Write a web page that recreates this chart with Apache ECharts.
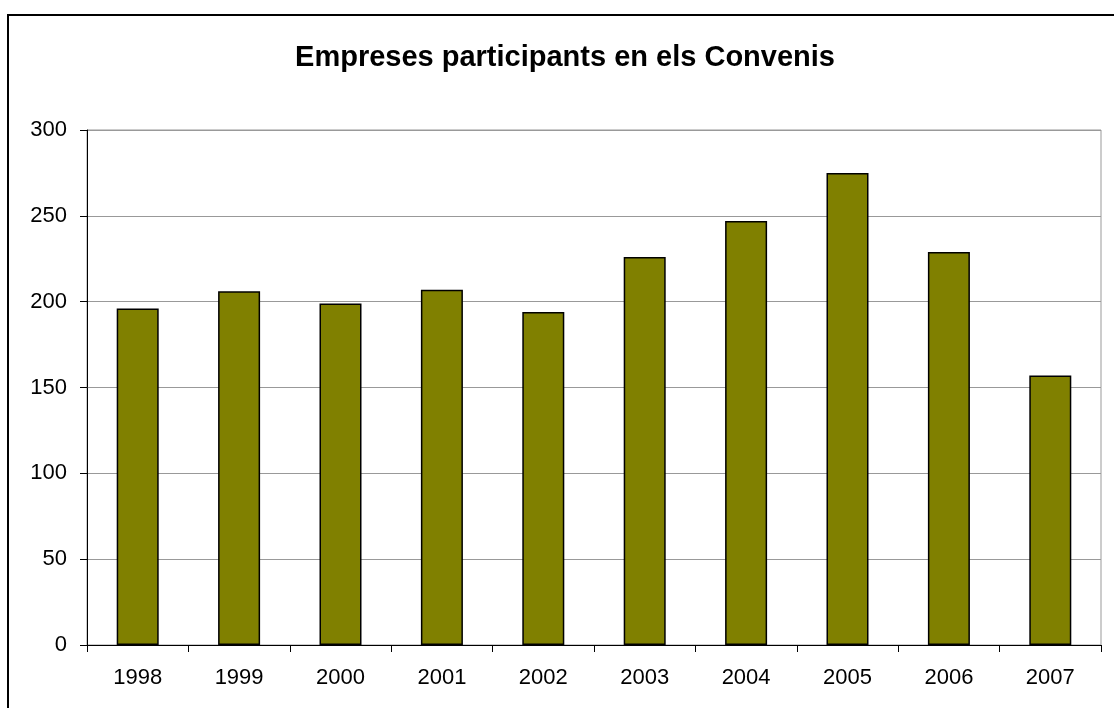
<!DOCTYPE html>
<html>
<head>
<meta charset="utf-8">
<script src="https://cdn.jsdelivr.net/npm/echarts@6/dist/echarts.min.js"></script>
<style>
html,body{margin:0;padding:0;background:#fff;}
#frame{position:absolute;left:7px;top:14px;width:1120px;height:720px;border:2px solid #000;box-sizing:border-box;}
#chart{position:absolute;left:0;top:0;width:1114px;height:708px;}
</style>
</head>
<body>
<div id="frame"></div>
<div id="chart"></div>
<script>
const titleText = 'Empreses participants en els Convenis';
const years = ['1998','1999','2000','2001','2002','2003','2004','2005','2006','2007'];
const empreses = [196, 206, 199, 207, 194, 226, 247, 275, 229, 157];

const chart = echarts.init(document.getElementById('chart'));
chart.setOption({
  animation: false,
  backgroundColor: 'transparent',
  title: {
    text: titleText,
    left: 560, top: 38, textAlign: 'center',
    textStyle: {fontFamily: 'Liberation Sans, Arial', fontWeight: 'bold', fontSize: 29, color: '#000'}
  },
  grid: {left: 87, top: 130, right: 13, bottom: 63, show: true, borderColor: '#999', borderWidth: 1},
  xAxis: {
    type: 'category', data: years,
    axisLine: {lineStyle: {color: '#000', width: 1}},
    axisTick: {show: true, length: 7, alignWithLabel: false, lineStyle: {color: '#000'}},
    axisLabel: {fontFamily: 'Liberation Sans, Arial', fontSize: 22, color: '#000', margin: 22}
  },
  yAxis: {
    type: 'value', min: 0, max: 300, interval: 50,
    axisLine: {show: true, lineStyle: {color: '#000', width: 1}},
    axisTick: {show: true, length: 7, lineStyle: {color: '#000'}},
    splitLine: {lineStyle: {color: '#999', width: 1}},
    axisLabel: {fontFamily: 'Liberation Sans, Arial', fontSize: 22, color: '#000', margin: 20}
  },
  series: [{
    type: 'bar', data: empreses, barWidth: 42,
    itemStyle: {color: '#808000', borderColor: '#000', borderWidth: 1.5}
  }]
});
</script>
</body>
</html>
